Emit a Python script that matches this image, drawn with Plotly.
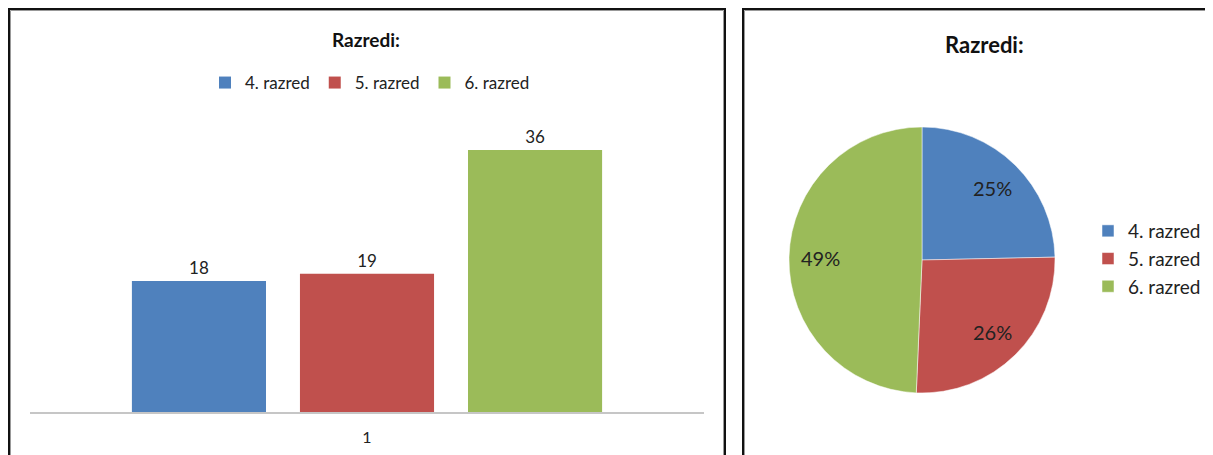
import math
import plotly.graph_objects as go

# data
categories = ["4. razred", "5. razred", "6. razred"]
counts = [18, 19, 36]
group_label = ["1"]
colors = ["#4F81BD", "#C0504D", "#9BBB59"]
title_text = "Razredi:"

# reference picture size; the page puts the figure 8px in from the corner
W, H = 1213, 455
OFF = 8
FONT = "Lato"


def px(x):
    return (x - OFF) / (W - OFF)


def py(y):
    return 1 - (y - OFF) / (H - OFF)


fig = go.Figure()

# bar panel (left)
for name, val, col in zip(categories, counts, colors):
    fig.add_trace(
        go.Bar(
            name=name,
            x=group_label,
            y=[val],
            marker=dict(color=col, line=dict(width=0)),
            text=[val],
            textposition="outside",
            textfont=dict(family=FONT, size=17, color="#222"),
            cliponaxis=False,
            legend="legend",
        )
    )

# pie panel (right)
pie_x = [px(789), px(1055)]
pie_y = [py(393), py(127)]
fig.add_trace(
    go.Pie(
        labels=categories,
        values=counts,
        marker=dict(colors=colors, line=dict(color="white", width=0.5)),
        sort=False,
        direction="clockwise",
        rotation=0,
        textinfo="none",
        domain=dict(x=pie_x, y=pie_y),
        legend="legend2",
        hoverinfo="label+value+percent",
    )
)

# percentage labels placed at ~3/4 of the radius, Excel style
total = sum(counts)
cx, cy = (pie_x[0] + pie_x[1]) / 2, (pie_y[0] + pie_y[1]) / 2
rx, ry = (pie_x[1] - pie_x[0]) / 2, (pie_y[1] - pie_y[0]) / 2
pct_labels = []
cum = 0
for v in counts:
    ang = math.radians((cum + v / 2) / total * 360)
    cum += v
    pct_labels.append(dict(
        text="%d%%" % round(v / total * 100), xref="paper", yref="paper",
        x=cx + 0.76 * rx * math.sin(ang), y=cy + 0.76 * ry * math.cos(ang),
        xanchor="center", yanchor="middle", showarrow=False,
        font=dict(family=FONT, size=20, color="#222"),
    ))

# panel frames
shapes = []
for x0, x1 in [(9, 725), (743, 1225)]:
    shapes.append(dict(type="rect", xref="paper", yref="paper",
                       x0=px(x0), x1=px(x1), y0=-0.1, y1=py(9),
                       line=dict(color="#111", width=2)))
    shapes.append(dict(type="rect", xref="paper", yref="paper",
                       x0=px(x0 + 1.5), x1=px(x1 - 1.5), y0=-0.1, y1=py(10.5),
                       line=dict(color="#999", width=1)))

fig.update_layout(
    width=W - OFF,
    height=H - OFF,
    margin=dict(l=0, r=0, t=0, b=0),
    plot_bgcolor="white",
    paper_bgcolor="white",
    font=dict(family=FONT, color="#222"),
    barmode="group",
    bargap=0.252,
    bargroupgap=0.202,
    xaxis=dict(
        domain=[px(30), px(704)],
        type="category",
        showgrid=False,
        zeroline=False,
        showline=True,
        linecolor="#C6C6C6",
        linewidth=2,
        ticks="",
        ticklabelstandoff=10,
        tickfont=dict(family=FONT, size=16, color="#222"),
        fixedrange=True,
    ),
    yaxis=dict(
        domain=[py(412), py(412 - 40 * 262 / 36)],
        range=[0, 40],
        showgrid=False,
        zeroline=False,
        showline=False,
        showticklabels=False,
        ticks="",
        fixedrange=True,
    ),
    legend=dict(
        orientation="h",
        x=px(370),
        xanchor="center",
        y=py(83),
        yanchor="middle",
        font=dict(family=FONT, size=17, color="#222"),
        itemwidth=30,
        bgcolor="rgba(0,0,0,0)",
    ),
    legend2=dict(
        orientation="v",
        x=px(1088),
        xanchor="left",
        y=py(259),
        yanchor="middle",
        font=dict(family=FONT, size=19, color="#222"),
        itemwidth=30,
        bgcolor="rgba(0,0,0,0)",
    ),
    annotations=[
        dict(text="<b>" + title_text + "</b>", xref="paper", yref="paper",
             x=px(366), y=py(40), xanchor="center", yanchor="middle",
             showarrow=False, font=dict(family=FONT, size=19, color="#111")),
        dict(text="<b>" + title_text + "</b>", xref="paper", yref="paper",
             x=px(984), y=py(44), xanchor="center", yanchor="middle",
             showarrow=False, font=dict(family=FONT, size=22, color="#111")),
    ] + pct_labels,
    shapes=shapes,
)

fig.write_html("out.html")
